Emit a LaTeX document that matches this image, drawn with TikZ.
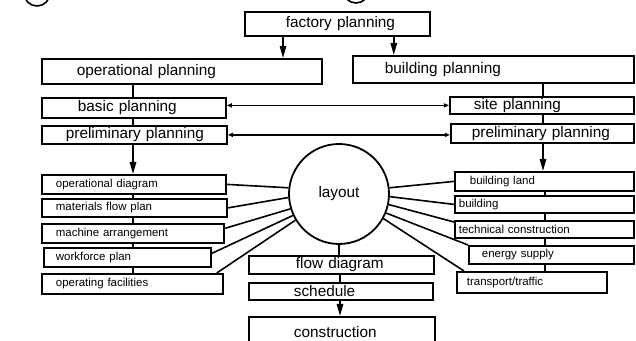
\documentclass[tikz,border=0pt]{standalone}
\usepackage{fontspec}
\setmainfont{Liberation Sans}
\usetikzlibrary{arrows.meta}
\newdimen\pxu \pxu=0.75pt
\newcommand\bigf{\fontsize{11.5}{13}\selectfont}
\newcommand\smlf{\fontsize{8.6}{10}\selectfont}

\begin{document}
\begin{tikzpicture}[x=0.75pt, y=-0.75pt,
    box/.style args={#1x#2}{draw, line width=1.35pt, inner sep=0pt, anchor=north west,
        text width=#1\pxu, minimum height=#2\pxu, align=left, font=\bigf},
    ind/.style={execute at begin node={\hspace*{#1\pxu}}},
    sml/.style={font=\smlf},
    con/.style={line width=1.2pt},
    arr/.style={con, -{Triangle[length=9pt,width=4.8pt]}},
    dbl/.style={con, {Triangle[length=3.8pt,width=3pt]}-{Triangle[length=3.8pt,width=3pt]}}]
\useasboundingbox (0,0) rectangle (636,341);
\clip (0,0) rectangle (636,341);

\draw[con] (37,-7) circle[radius=13];
\draw[con] (356,-10) circle[radius=13];

\node[box=185x24, ind=41] (factory) at (244,11) {factory planning};
\node[box=280x25, ind=35] (opplan) at (41,58) {operational planning};
\node[box=281x27, ind=32] (bldplan) at (352,55) {building planning};
\node[box=184x20, ind=36] (basic) at (41,97) {basic planning};
\node[box=184x17, ind=24] (site) at (449,96) {site planning};
\node[box=185x18, ind=24] (prelimL) at (41,125) {preliminary planning};
\node[box=183x19, ind=21] (prelimR) at (450,123) {preliminary planning};

\node[box=184x19, sml, ind=14] (opdiag) at (41,174) {operational diagram};
\node[box=185x18, sml, ind=14] (matflow) at (41,198) {materials flow plan};
\node[box=182x19, sml, ind=14] (machine) at (41,223) {machine arrangement};
\node[box=167x19, sml, ind=12] (workforce) at (43,247) {workforce plan};
\node[box=181x20, sml, ind=14] (opfac) at (41,273) {operating facilities};

\node[box=179x19, sml, ind=15] (bland) at (454,171) {building land};
\node[box=179x17, sml, ind=4] (bldg) at (454,195) {building};
\node[box=179x17, sml, ind=4] (tech) at (454,220) {technical construction};
\node[box=165x18, sml, ind=13] (energy) at (468,245) {energy supply};
\node[box=150x21, sml, ind=10] (transport) at (456,271) {transport/traffic};

\node[draw, circle, line width=1.35pt, minimum size=100\pxu, inner sep=0pt, font=\bigf] (layout) at (339,194) {layout};

\node[box=185x18, ind=47] (flow) at (248,255) {flow diagram};
\node[box=184x17, ind=45] (schedule) at (248,282) {schedule};
\node[box=186x30, ind=45] (constr) at (248,316) {construction};

\draw[arr] ([xshift=39\pxu]factory.south west) coordinate (f1) -- (f1 |- opplan.north);
\draw[arr] ([xshift=-37\pxu]factory.south east) coordinate (f2) -- (f2 |- bldplan.north);

\draw[con] ([xshift=92\pxu]opplan.south west) coordinate (l1) -- (l1 |- basic.north);
\draw[con] ([xshift=92\pxu]basic.south west) coordinate (l2) -- (l2 |- prelimL.north);
\draw[arr] ([xshift=92\pxu]prelimL.south west) coordinate (l3) -- (l3 |- opdiag.north);
\draw[con] ([xshift=92\pxu]opdiag.south west) coordinate (l4) -- (l4 |- matflow.north);
\draw[con] ([xshift=92\pxu]matflow.south west) coordinate (l5) -- (l5 |- machine.north);
\draw[con] ([xshift=92\pxu]machine.south west) coordinate (l6) -- (l6 |- workforce.north);
\draw[con] ([xshift=90\pxu]workforce.south west) coordinate (l7) -- (l7 |- opfac.north);

\draw[con] ([xshift=191\pxu]bldplan.south west) coordinate (r1) -- (r1 |- site.north);
\draw[con] ([xshift=94\pxu]site.south west) coordinate (r2) -- (r2 |- prelimR.north);
\draw[arr] ([xshift=93\pxu]prelimR.south west) coordinate (r3) -- (r3 |- bland.north);
\draw[con] ([xshift=91\pxu]bland.south west) coordinate (r4) -- (r4 |- bldg.north);
\draw[con] ([xshift=91\pxu]bldg.south west) coordinate (r5) -- (r5 |- tech.north);
\draw[con] ([xshift=91\pxu]tech.south west) coordinate (r6) -- (r6 |- energy.north);
\draw[con] ([xshift=77\pxu]energy.south west) coordinate (r7) -- (r7 |- transport.north);

\draw[dbl] (site.west -| basic.east) -- (site.west);
\draw[dbl] (prelimL.east) -- (prelimL.east -| prelimR.west);

\draw[con] (opdiag.east) -- (layout.173);
\draw[con] (matflow.east) -- (layout.184);
\draw[con] ([yshift=5\pxu]machine.east) -- (layout.197);
\draw[con] ([yshift=4\pxu]workforce.east) -- (layout.205);
\draw[con] ([xshift=-7\pxu]opfac.north east) -- (layout.211);
\draw[con] (bland.west) -- (layout.7);
\draw[con] (bldg.west) -- (layout.-3);
\draw[con] ([yshift=-2\pxu]tech.north west) -- (layout.-12);
\draw[con] (energy.north west) -- (layout.-22);
\draw[con] ([xshift=8\pxu]transport.north west) -- (layout.-29);

\draw[con] (layout.south) -- (layout.south |- flow.north);
\draw[con] ([xshift=92\pxu]flow.south west) coordinate (c1) -- (c1 |- schedule.north);
\draw[arr] ([xshift=92\pxu]schedule.south west) coordinate (c2) -- (c2 |- constr.north);
\end{tikzpicture}
\end{document}
